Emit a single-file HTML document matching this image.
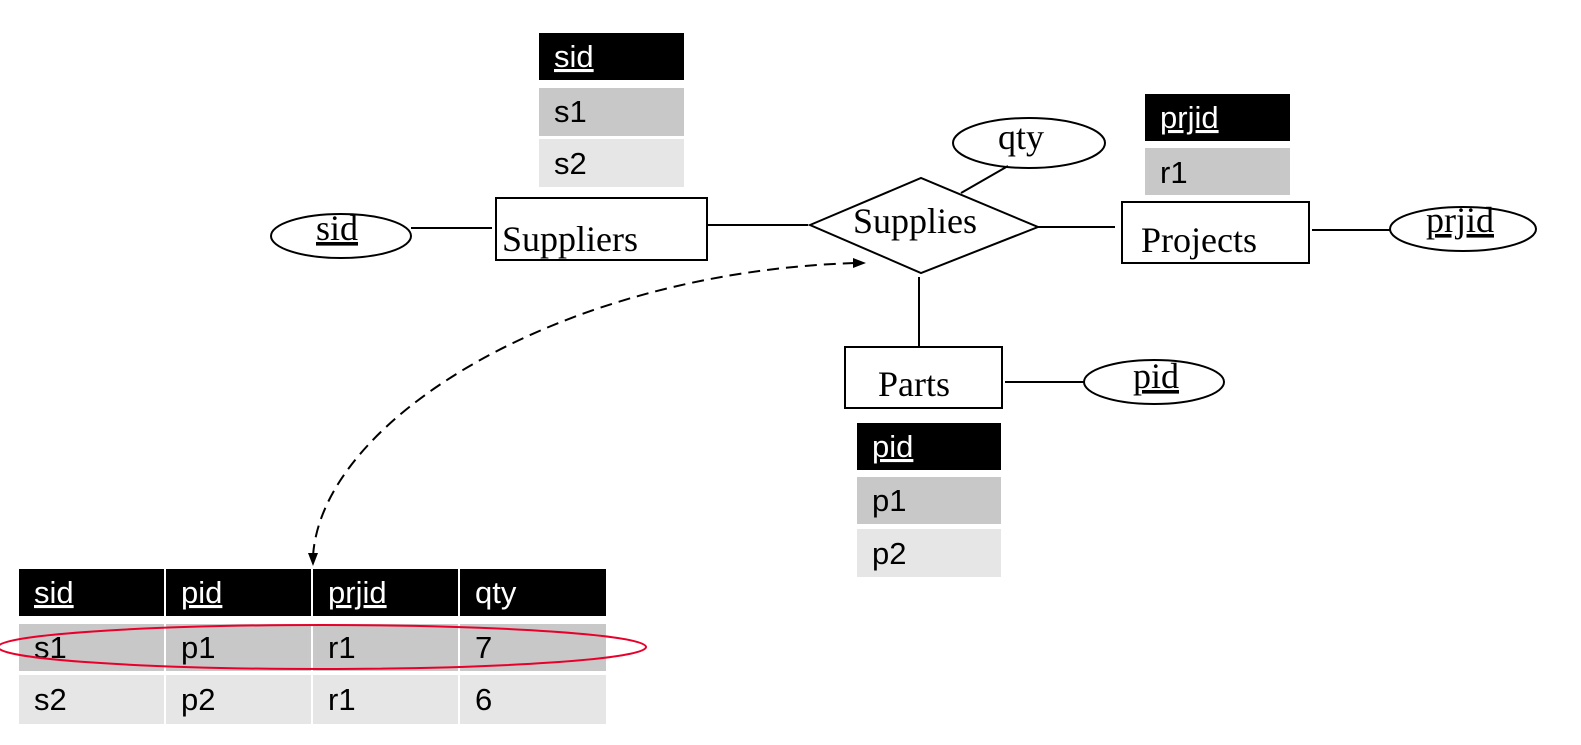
<!DOCTYPE html>
<html><head><style>body{margin:0;background:#fff}svg{display:block}</style></head><body>
<svg width="1581" height="745" xmlns="http://www.w3.org/2000/svg">
<g font-family="Liberation Sans, sans-serif" font-size="31">
<rect x="539" y="33" width="145" height="47" fill="#000"/>
<text x="554" y="67" fill="#fff" text-decoration="underline">sid</text>
<rect x="539" y="88" width="145" height="48" fill="#c8c8c8"/>
<text x="554" y="122">s1</text>
<rect x="539" y="139" width="145" height="48" fill="#e6e6e6"/>
<text x="554" y="174">s2</text>
<rect x="1145" y="94" width="145" height="47" fill="#000"/>
<text x="1160" y="128" fill="#fff" text-decoration="underline">prjid</text>
<rect x="1145" y="148" width="145" height="47" fill="#c8c8c8"/>
<text x="1160" y="183">r1</text>
<rect x="857" y="423" width="144" height="47" fill="#000"/>
<text x="872" y="457" fill="#fff" text-decoration="underline">pid</text>
<rect x="857" y="477" width="144" height="47" fill="#c8c8c8"/>
<text x="872" y="511">p1</text>
<rect x="857" y="529" width="144" height="48" fill="#e6e6e6"/>
<text x="872" y="564">p2</text>
<rect x="19" y="569" width="145" height="47" fill="#000"/>
<rect x="166" y="569" width="145" height="47" fill="#000"/>
<rect x="313" y="569" width="145" height="47" fill="#000"/>
<rect x="460" y="569" width="146" height="47" fill="#000"/>
<text x="34" y="603" fill="#fff" text-decoration="underline">sid</text>
<text x="181" y="603" fill="#fff" text-decoration="underline">pid</text>
<text x="328" y="603" fill="#fff" text-decoration="underline">prjid</text>
<text x="475" y="603" fill="#fff">qty</text>
<rect x="19" y="624" width="145" height="47" fill="#c8c8c8"/>
<rect x="166" y="624" width="145" height="47" fill="#c8c8c8"/>
<rect x="313" y="624" width="145" height="47" fill="#c8c8c8"/>
<rect x="460" y="624" width="146" height="47" fill="#c8c8c8"/>
<text x="34" y="658">s1</text><text x="181" y="658">p1</text><text x="328" y="658">r1</text><text x="475" y="658">7</text>
<rect x="19" y="675" width="145" height="49" fill="#e6e6e6"/>
<rect x="166" y="675" width="145" height="49" fill="#e6e6e6"/>
<rect x="313" y="675" width="145" height="49" fill="#e6e6e6"/>
<rect x="460" y="675" width="146" height="49" fill="#e6e6e6"/>
<text x="34" y="710">s2</text><text x="181" y="710">p2</text><text x="328" y="710">r1</text><text x="475" y="710">6</text>
</g>
<ellipse cx="322" cy="647" rx="324" ry="22" fill="none" stroke="#e8002a" stroke-width="2"/>
<g fill="none" stroke="#000" stroke-width="2">
<rect x="496" y="198" width="211" height="62" fill="#fff"/>
<ellipse cx="341" cy="236" rx="70" ry="22"/>
<line x1="411" y1="228" x2="492" y2="228"/>
<line x1="707" y1="225" x2="808" y2="225"/>
<polygon points="810,225 921,178 1038,227 921,273" fill="#fff"/>
<ellipse cx="1029" cy="143" rx="76" ry="25"/>
<line x1="961" y1="193" x2="1008" y2="166"/>
<rect x="1122" y="202" width="187" height="61"/>
<line x1="1038" y1="227" x2="1115" y2="227"/>
<line x1="1312" y1="230" x2="1390" y2="230"/>
<ellipse cx="1463" cy="229" rx="73" ry="22"/>
<line x1="919" y1="277" x2="919" y2="348"/>
<rect x="845" y="347" width="157" height="61"/>
<line x1="1005" y1="382" x2="1085" y2="382"/>
<ellipse cx="1154" cy="382" rx="70" ry="22"/>
<path d="M313 556 C322 420 560 272 856 263" stroke-dasharray="12,7"/>
</g>
<path d="M308,553 L318,553 L313,566 z" fill="#000"/>
<path d="M853,258 L866,263 L853,268 z" fill="#000"/>
<g font-family="Liberation Serif, serif" font-size="36">
<text x="502" y="251">Suppliers</text>
<text x="316" y="240" text-decoration="underline">sid</text>
<text x="853" y="233">Supplies</text>
<text x="998" y="149">qty</text>
<text x="1141" y="252">Projects</text>
<text x="1426" y="232" text-decoration="underline">prjid</text>
<text x="878" y="396">Parts</text>
<text x="1133" y="388" text-decoration="underline">pid</text>
</g>
</svg>
</body></html>
